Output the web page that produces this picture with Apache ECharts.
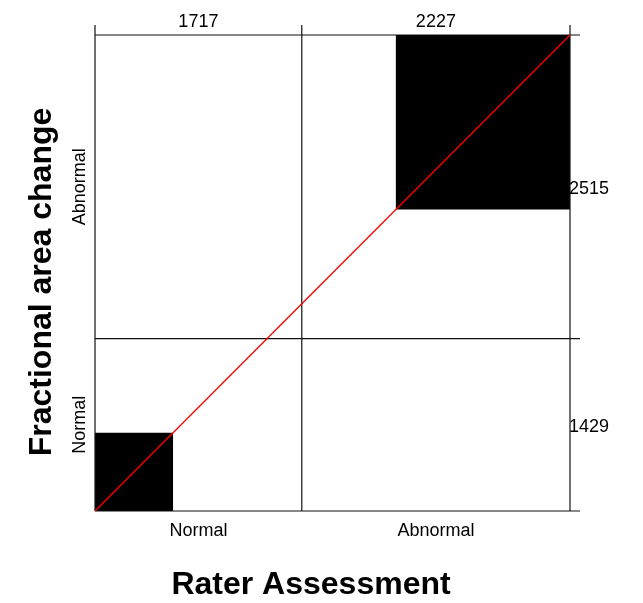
<!DOCTYPE html>
<html>
<head>
<meta charset="utf-8">
<script src="https://cdn.jsdelivr.net/npm/echarts@6/dist/echarts.min.js"></script>
<style>html,body{margin:0;padding:0;background:#fff}#c{width:643px;height:603px}</style>
</head>
<body>
<div id="c"></div>
<script>
// Categories (same for both raters)
const categories = ['Normal', 'Abnormal'];
// Counts: rows = Fractional area change (Normal, Abnormal), cols = Rater Assessment (Normal, Abnormal)
const rowNormal = [648, 781];
const rowAbnormal = [1069, 1446];
const xTitle = 'Rater Assessment';
const yTitle = 'Fractional area change';

const counts = [rowNormal, rowAbnormal];
const colTotals = categories.map((_, j) => counts.reduce((s, r) => s + r[j], 0));
const rowTotals = counts.map(r => r.reduce((s, v) => s + v, 0));
const N = rowTotals.reduce((s, v) => s + v, 0);
const colStart = [], rowStart = [];
let acc = 0; colTotals.forEach(v => { colStart.push(acc); acc += v; });
acc = 0; rowTotals.forEach(v => { rowStart.push(acc); acc += v; });

// agreement rectangles
const rects = categories.map((_, i) => {
  let x0 = colStart[i], y0 = rowStart[i];
  for (let k = 0; k < i; k++) { x0 += counts[k][i]; y0 += counts[i][k]; }
  return [x0, y0, x0 + counts[i][i], y0 + counts[i][i]];
});
const vLines = colStart.concat([N]);
const hLines = rowStart.concat([N]);

const FONT = '"Liberation Sans", Arial, Helvetica, sans-serif';
const chart = echarts.init(document.getElementById('c'), null, {renderer: 'canvas'});

chart.setOption({
  animation: false,
  backgroundColor: '#fff',
  grid: {left: 95, right: 73, top: 35, bottom: 92},
  xAxis: {
    type: 'value', min: 0, max: N,
    axisLine: {show: false}, axisTick: {show: false}, axisLabel: {show: false}, splitLine: {show: false}
  },
  yAxis: {
    type: 'value', min: 0, max: N,
    axisLine: {show: false}, axisTick: {show: false}, axisLabel: {show: false}, splitLine: {show: false}
  },
  graphic: [
    {type: 'text', x: 311, y: 585, style: {text: xTitle, fontFamily: FONT, fontSize: 32, fontWeight: 'bold', fill: '#000', align: 'center', verticalAlign: 'middle'}},
    {type: 'text', x: 42, y: 282, rotation: Math.PI / 2, style: {text: yTitle, fontFamily: FONT, fontSize: 32, fontWeight: 'bold', fill: '#000', align: 'center', verticalAlign: 'middle'}}
  ],
  series: [
    {
      type: 'custom', clip: false, z: 1,
      data: rects,
      renderItem: (params, api) => {
        const p0 = api.coord([api.value(0), api.value(3)]);
        const p1 = api.coord([api.value(2), api.value(1)]);
        return {type: 'rect', shape: {x: p0[0], y: p0[1], width: p1[0] - p0[0], height: p1[1] - p0[1]},
          style: {fill: '#000'}};
      }
    },
    {
      type: 'custom', clip: false, z: 2,
      data: vLines.map(v => [v, 0]).concat(hLines.map(v => [v, 1])),
      renderItem: (params, api) => {
        const v = api.value(0), kind = api.value(1);
        let a, b;
        if (kind === 0) { a = api.coord([v, 0]); b = api.coord([v, N]); b = [b[0], b[1] - 10]; }
        else { a = api.coord([0, v]); b = api.coord([N, v]); b = [b[0] + 10, b[1]]; }
        return {type: 'line', shape: {x1: a[0], y1: a[1], x2: b[0], y2: b[1]},
          style: {stroke: '#111', lineWidth: 1.2}};
      }
    },
    {
      type: 'line', z: 3, symbol: 'none', silent: true,
      data: [[0, 0], [N, N]],
      lineStyle: {color: '#ff0000', width: 1.3}
    },
    {
      type: 'custom', clip: false, z: 4,
      data: categories.map((c, i) => [i]),
      renderItem: (params, api) => {
        const i = api.value(0);
        const cx = colStart[i] + colTotals[i] / 2;
        const cy = rowStart[i] + rowTotals[i] / 2;
        const top = api.coord([cx, N]);
        const bot = api.coord([cx, 0]);
        const left = api.coord([0, cy]);
        const right = api.coord([N, cy]);
        const ts = {fontFamily: FONT, fontSize: 18, fill: '#000'};
        return {type: 'group', children: [
          {type: 'text', x: top[0], y: top[1] - 13, style: Object.assign({text: String(colTotals[i]), align: 'center', verticalAlign: 'middle'}, ts)},
          {type: 'text', x: bot[0], y: bot[1] + 20, style: Object.assign({text: categories[i], align: 'center', verticalAlign: 'middle'}, ts)},
          {type: 'text', x: left[0] - 15, y: left[1], rotation: Math.PI / 2, style: Object.assign({text: categories[i], align: 'center', verticalAlign: 'middle'}, ts)},
          {type: 'text', x: right[0] - 1, y: right[1] + 2, style: Object.assign({text: String(rowTotals[i]), align: 'left', verticalAlign: 'middle'}, ts)}
        ]};
      }
    }
  ]
});
</script>
</body>
</html>
